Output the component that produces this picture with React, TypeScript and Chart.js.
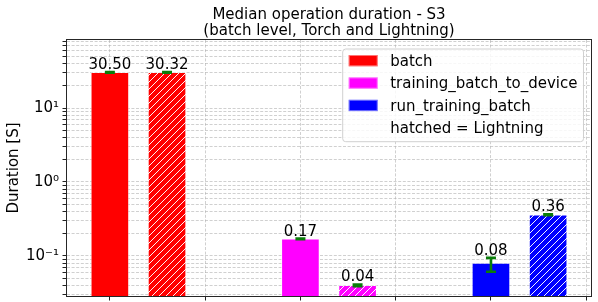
import React, { useEffect, useRef } from 'react';
import { Chart, registerables } from 'chart.js';

Chart.register(...registerables);

// ---------- data ----------
const groups = ['batch', 'training_batch_to_device', 'run_training_batch'];
const groupColors = ['#ff0000', '#ff00ff', '#0000ff'];
const groupPositions = [0, 1, 2];
const torchValues = [30.5, 0.17, 0.08];
const lightningValues = [30.32, 0.04, 0.36];
const torchErrLow = [30.2, 0.168, 0.061];
const torchErrHigh = [30.8, 0.172, 0.094];
const lightningErrLow = [30.0, 0.039, 0.355];
const lightningErrHigh = [30.6, 0.0411, 0.365];
const lightningOffset = 0.3;
const xTickValues = [0, 0.5, 1, 1.5, 2, 2.5];
const yDecades = [0.01, 0.1, 1, 10];
const yDecadeLabels: Record<string, string> = { '0.1': '10\u207B\u00B9', '1': '10\u2070', '10': '10\u00B9' };
const titleLines = ['Median operation duration - S3', '(batch level, Torch and Lightning)'];
const yAxisTitle = 'Duration [S]';
const legendExtraLabel = 'hatched = Lightning';
const xRange = [-0.225, 2.525];
const yRange = [0.0287, 83.3];

const FONT = 'DejaVu Sans';
const FS = 15;
const ERR_COLOR = '#0a7d0a';

function makeHatch(color: string): CanvasPattern | string {
  const size = 7;
  const c = document.createElement('canvas');
  c.width = size;
  c.height = size;
  const g = c.getContext('2d');
  if (!g) return color;
  g.fillStyle = color;
  g.fillRect(0, 0, size, size);
  g.strokeStyle = 'rgba(255,255,255,0.95)';
  g.lineWidth = 1;
  g.beginPath();
  g.moveTo(-1, size + 1);
  g.lineTo(size + 1, -1);
  g.moveTo(-1, 1);
  g.lineTo(1, -1);
  g.moveTo(size - 1, size + 1);
  g.lineTo(size + 1, size - 1);
  g.stroke();
  return g.createPattern(c, 'repeat') || color;
}

export default function App() {
  const ref = useRef<HTMLCanvasElement | null>(null);

  useEffect(() => {
    if (!ref.current) return;
    const hatches = groupColors.map((c) => makeHatch(c));

    const yTicks: number[] = [];
    yDecades.forEach((d) => {
      for (let m = 1; m <= 9; m++) {
        const v = +(d * m).toPrecision(3);
        if (v >= yRange[0] && v <= yRange[1]) yTicks.push(v);
      }
    });

    const overlay = {
      id: 'overlay',
      afterDatasetsDraw(chart: any) {
        const { ctx, chartArea: a, scales } = chart;
        const xs = scales.x;
        const ys = scales.y;
        ctx.save();
        const drawBar = (xv: number, val: number, lo: number, hi: number) => {
          const px = xs.getPixelForValue(xv);
          const pLo = ys.getPixelForValue(lo);
          const pHi = ys.getPixelForValue(hi);
          ctx.strokeStyle = ERR_COLOR;
          ctx.lineWidth = 2.6;
          ctx.beginPath();
          ctx.moveTo(px, pLo);
          ctx.lineTo(px, pHi);
          ctx.moveTo(px - 5, pLo);
          ctx.lineTo(px + 5, pLo);
          ctx.moveTo(px - 5, pHi);
          ctx.lineTo(px + 5, pHi);
          ctx.stroke();
          ctx.fillStyle = '#000';
          ctx.font = `${FS}px "${FONT}"`;
          ctx.textAlign = 'center';
          ctx.textBaseline = 'alphabetic';
          ctx.fillText(val.toFixed(2), px, pHi - 3);
        };
        groups.forEach((_, i) => {
          drawBar(groupPositions[i], torchValues[i], torchErrLow[i], torchErrHigh[i]);
          drawBar(groupPositions[i] + lightningOffset, lightningValues[i], lightningErrLow[i], lightningErrHigh[i]);
        });
        ctx.strokeStyle = '#262626';
        ctx.lineWidth = 1;
        ctx.strokeRect(a.left - 0.5, a.top - 0.5, a.right - a.left + 1, a.bottom - a.top + 1);
        ctx.restore();
      },
      afterDraw(chart: any) {
        const { ctx, chartArea: a } = chart;
        ctx.save();
        ctx.fillStyle = '#000';
        ctx.font = `${FS}px "${FONT}"`;
        ctx.textAlign = 'center';
        ctx.textBaseline = 'alphabetic';
        const cx = (a.left + a.right) / 2;
        ctx.fillText(titleLines[0], cx, 19);
        ctx.fillText(titleLines[1], cx, 34.5);
        ctx.save();
        ctx.translate(18, (a.top + a.bottom) / 2);
        ctx.rotate(-Math.PI / 2);
        ctx.fillText(yAxisTitle, 0, 0);
        ctx.restore();
        const labels = [...groups, legendExtraLabel];
        ctx.textAlign = 'left';
        const maxW = Math.max(...labels.map((l) => ctx.measureText(l).width));
        const w = 47.5 + maxW + 6;
        const h = 92.7;
        const right = a.right - 7.5;
        const left = right - w;
        const top = a.top + 9;
        const r = 3;
        ctx.beginPath();
        ctx.moveTo(left + r, top);
        ctx.lineTo(left + w - r, top);
        ctx.arcTo(left + w, top, left + w, top + r, r);
        ctx.lineTo(left + w, top + h - r);
        ctx.arcTo(left + w, top + h, left + w - r, top + h, r);
        ctx.lineTo(left + r, top + h);
        ctx.arcTo(left, top + h, left, top + h - r, r);
        ctx.lineTo(left, top + r);
        ctx.arcTo(left, top, left + r, top, r);
        ctx.closePath();
        ctx.fillStyle = 'rgba(255,255,255,0.85)';
        ctx.fill();
        ctx.strokeStyle = '#d0d0d0';
        ctx.lineWidth = 1;
        ctx.stroke();
        labels.forEach((l, i) => {
          const base = top + 16.7 + 22.4 * i;
          if (i < groupColors.length) {
            ctx.fillStyle = groupColors[i];
            ctx.fillRect(left + 6, base - 10.7, 29, 11.3);
            ctx.strokeStyle = 'rgba(255,255,255,0.45)';
            ctx.strokeRect(left + 6.5, base - 10.2, 28, 10.3);
          }
          ctx.fillStyle = '#000';
          ctx.fillText(l, left + 47.5, base);
        });
        ctx.restore();
      },
    };

    const torchData = groups.map((_, i) => ({ x: groupPositions[i], y: torchValues[i] }));
    const lightningData = groups.map((_, i) => ({ x: groupPositions[i] + lightningOffset, y: lightningValues[i] }));

    const gridColor = 'rgba(176,176,176,0.75)';
    const chart = new Chart(ref.current, {
      type: 'bar',
      data: {
        datasets: [
          {
            label: 'Torch',
            data: torchData as any,
            backgroundColor: groupColors,
            borderColor: 'rgba(255,255,255,0.45)',
            borderWidth: 1,
            barThickness: 38,
            grouped: false,
          } as any,
          {
            label: 'Lightning',
            data: lightningData as any,
            backgroundColor: hatches as any,
            borderColor: 'rgba(255,255,255,0.45)',
            borderWidth: 1,
            barThickness: 38,
            grouped: false,
          } as any,
        ],
      },
      options: {
        responsive: false,
        animation: false,
        devicePixelRatio: 1,
        layout: { padding: { left: 0, top: 40, right: 7, bottom: 0 } },
        plugins: { legend: { display: false }, tooltip: { enabled: false }, title: { display: false } },
        scales: {
          x: {
            type: 'linear',
            offset: false,
            min: xRange[0],
            max: xRange[1],
            afterBuildTicks: (s: any) => {
              s.ticks = xTickValues.map((v) => ({ value: v }));
            },
            afterFit: (s: any) => {
              s.height = 6;
              s.paddingLeft = 0;
              s.paddingRight = 0;
            },
            ticks: { display: false },
            grid: { offset: false, color: gridColor, lineWidth: 0.8, tickLength: 4.5, tickColor: '#222', tickWidth: 1 },
            border: { display: false, dash: [3, 1.6] },
          },
          y: {
            type: 'logarithmic',
            min: yRange[0],
            max: yRange[1],
            afterBuildTicks: (s: any) => {
              s.ticks = yTicks.map((v) => ({ value: v, major: !!yDecadeLabels[String(v)] }));
            },
            afterFit: (s: any) => {
              s.width = 67;
              s.paddingTop = 0;
              s.paddingBottom = 0;
            },
            ticks: {
              autoSkip: false,
              color: '#000',
              padding: 3.5,
              font: { family: FONT, size: FS },
              callback: (v: any) => yDecadeLabels[String(v)] || '',
            },
            grid: { color: gridColor, lineWidth: 0.8, tickLength: 4.5, tickColor: '#222', tickWidth: 1 },
            border: { display: false, dash: [3, 1.6] },
          },
        },
      } as any,
      plugins: [overlay],
    });
    return () => chart.destroy();
  }, []);

  return (
    <div style={{ position: 'fixed', left: 0, top: 0, width: 598, height: 302, background: '#fff' }}>
      <canvas ref={ref} width={598} height={302} style={{ display: 'block' }} />
    </div>
  );
}
